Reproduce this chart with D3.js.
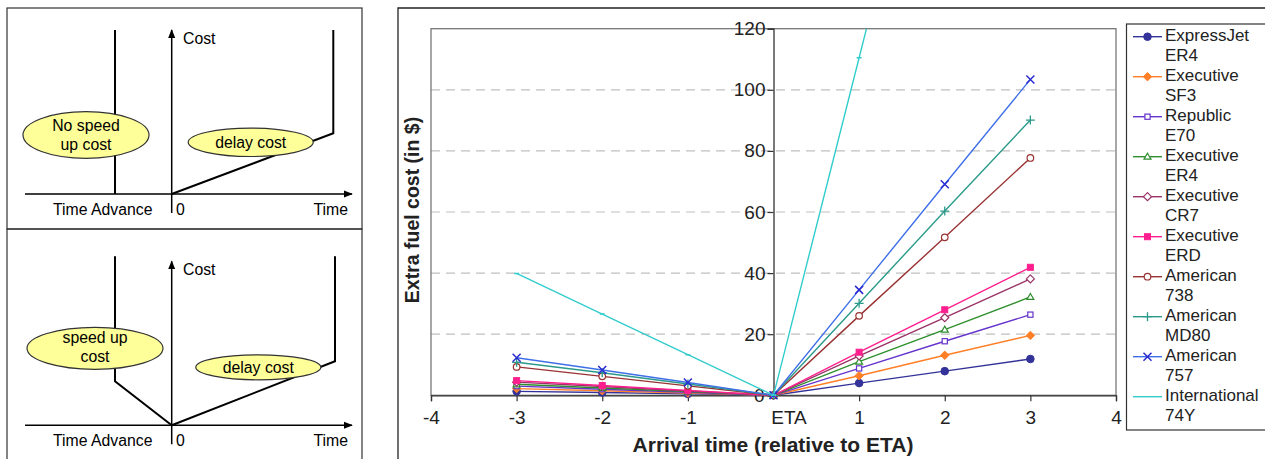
<!DOCTYPE html>
<html><head><meta charset="utf-8">
<script src="https://cdn.jsdelivr.net/npm/d3@7"></script>
<style>body{margin:0;background:#fff}svg{display:block;font-family:"Liberation Sans",Arial,sans-serif}</style>
</head><body><svg id="c" width="1265" height="459"></svg>
<script>
// ---- data ----
const xTicks = [-4,-3,-2,-1,0,1,2,3,4];
const xTickLabels = ["-4","-3","-2","-1","ETA","1","2","3","4"];
const yTicks = [0,20,40,60,80,100,120];
const times = [-3,-2,-1,0,1,2,3];
const seriesNames = ["ExpressJet ER4","Executive SF3","Republic E70","Executive ER4","Executive CR7","Executive ERD","American 738","American MD80","American 757","International 74Y"];
const expressJetER4  = [1.3, 0.9, 0.45, 0, 4.0, 7.9, 11.9];
const executiveSF3   = [2.2, 1.5, 0.7, 0, 6.4, 13.1, 19.6];
const republicE70    = [3.0, 2.0, 1.0, 0, 8.8, 17.7, 26.4];
const executiveER4   = [3.6, 2.4, 1.2, 0, 11.0, 21.5, 32.2];
const executiveCR7   = [4.3, 2.9, 1.4, 0, 12.9, 25.4, 38.1];
const executiveERD   = [4.8, 3.2, 1.6, 0, 14.1, 28.0, 41.9];
const american738    = [9.3, 6.2, 3.1, 0, 26.0, 51.7, 77.7];
const americanMD80   = [10.8, 7.4, 3.7, 0, 30.1, 60.3, 90.1];
const american757    = [12.3, 8.3, 4.2, 0, 34.5, 69.1, 103.4];
const international74Y = [39.9, 26.6, 13.3, 0, 110.5, 221, 331.5];
const seriesValues = [expressJetER4, executiveSF3, republicE70, executiveER4, executiveCR7, executiveERD, american738, americanMD80, american757, international74Y];
const seriesColors = ["#333399","#ff7f27","#6633cc","#2f8f2f","#993366","#ff1f8f","#993333","#2a9a8a","#3f6fe8","#33cccc"];
const markerColors = ["#333399","#ff7f27","#6633cc","#2f8f2f","#993366","#ff1f8f","#993333","#2a9a8a","#2a2ad0","#33cccc"];
const markerTypes = ["circleF","diamondF","squareO","triangleO","diamondO","squareF","circleO","plus","cross","dash"];

const svg = d3.select("#c");
svg.append("rect").attr("width",1265).attr("height",459).attr("fill","#fff");

// ---- left schematic panels ----
const L = svg.append("g");
L.append("rect").attr("x",7).attr("y",8).attr("width",355).attr("height",221).attr("fill","none").attr("stroke","#333").attr("stroke-width",1.2);
L.append("rect").attr("x",7).attr("y",229).attr("width",355).attr("height",240).attr("fill","none").attr("stroke","#333").attr("stroke-width",1.2);
const defs = svg.append("defs");
defs.append("marker").attr("id","arr").attr("viewBox","0 0 10 10").attr("refX",9).attr("refY",5)
  .attr("markerWidth",6).attr("markerHeight",6).attr("orient","auto-start-reverse")
  .append("path").attr("d","M0,1 L10,5 L0,9 Z").attr("fill","#000");
const FS = 15.8;
function panel(oy, speedUp){
  const g = L.append("g").attr("transform",`translate(0,${oy})`);
  const ox=171.7, axY=186;
  const line = d3.line();
  g.append("path").attr("d",line([[25,axY],[352,axY]])).attr("stroke","#000").attr("stroke-width",1.5).attr("marker-end","url(#arr)");
  g.append("path").attr("d",line([[ox,axY+19],[ox,22]])).attr("stroke","#000").attr("stroke-width",1.5).attr("marker-end","url(#arr)");
  g.append("text").attr("x",183).attr("y",36).attr("font-size",FS).text("Cost");
  if(speedUp){
    g.append("path").attr("d",line([[115,17],[115,142],[ox,axY]])).attr("fill","none").attr("stroke","#000").attr("stroke-width",2);
    g.append("ellipse").attr("cx",95).attr("cy",109).attr("rx",68).attr("ry",21).attr("fill","#ffff99").attr("stroke","#333").attr("stroke-width",1.2);
    g.append("text").attr("x",95).attr("y",104).attr("text-anchor","middle").attr("font-size",FS).text("speed up");
    g.append("text").attr("x",95).attr("y",123).attr("text-anchor","middle").attr("font-size",FS).text("cost");
    g.append("path").attr("d",line([[ox,axY],[335,122],[335,17]])).attr("fill","none").attr("stroke","#000").attr("stroke-width",2);
    g.append("ellipse").attr("cx",258.3).attr("cy",128).attr("rx",62.5).attr("ry",12.5).attr("fill","#ffff99").attr("stroke","#333").attr("stroke-width",1.2);
    g.append("text").attr("x",258.3).attr("y",133.5).attr("text-anchor","middle").attr("font-size",FS).text("delay cost");
  } else {
    g.append("path").attr("d",line([[115,22],[115,axY]])).attr("fill","none").attr("stroke","#000").attr("stroke-width",2);
    g.append("ellipse").attr("cx",86).attr("cy",127).attr("rx",63).attr("ry",23.3).attr("fill","#ffff99").attr("stroke","#333").attr("stroke-width",1.2);
    g.append("text").attr("x",86).attr("y",123).attr("text-anchor","middle").attr("font-size",FS).text("No speed");
    g.append("text").attr("x",86).attr("y",142).attr("text-anchor","middle").attr("font-size",FS).text("up cost");
    g.append("path").attr("d",line([[ox,axY],[333.3,125.3],[333.3,22]])).attr("fill","none").attr("stroke","#000").attr("stroke-width",2);
    g.append("ellipse").attr("cx",250.7).attr("cy",134.3).attr("rx",62.5).attr("ry",14.2).attr("fill","#ffff99").attr("stroke","#333").attr("stroke-width",1.2);
    g.append("text").attr("x",250.7).attr("y",140).attr("text-anchor","middle").attr("font-size",FS).text("delay cost");
  }
  g.append("text").attr("x",53).attr("y",207).attr("font-size",FS).text("Time Advance");
  g.append("text").attr("x",176).attr("y",207).attr("font-size",FS).text("0");
  g.append("text").attr("x",348).attr("y",207).attr("text-anchor","end").attr("font-size",FS).text("Time");
}
panel(8,false);
panel(239.3,true);

// ---- main chart frame ----
svg.append("path").attr("d","M398,470 L398,8 L1270,8").attr("fill","none").attr("stroke","#222").attr("stroke-width",1.3);

const x = d3.scaleLinear().domain([-4,4]).range([431,1116]);
const y = d3.scaleLinear().domain([0,120]).range([395.3,28.7]);

// gridlines
svg.append("g").selectAll("line").data(yTicks.filter(v=>v>0&&v<120)).join("line")
  .attr("x1",431).attr("x2",1116).attr("y1",d=>y(d)).attr("y2",d=>y(d))
  .attr("stroke","#c0c0c0").attr("stroke-width",1.2).attr("stroke-dasharray","9,6");
// plot border
svg.append("rect").attr("x",431).attr("y",y(120)).attr("width",1116-431).attr("height",y(0)-y(120))
  .attr("fill","none").attr("stroke","#777").attr("stroke-width",1.3);

// x axis
const xAxis = d3.axisBottom(x).tickValues(xTicks).tickSize(6).tickFormat((d,i)=>xTickLabels[i]);
const gx = svg.append("g").attr("transform",`translate(0,${y(0)})`).call(xAxis);
gx.select(".domain").attr("stroke","#333").attr("stroke-width",1.3);
gx.selectAll(".tick line").attr("stroke","#333").attr("stroke-width",1.2);
gx.selectAll(".tick text").attr("font-size",19).attr("font-family","Liberation Sans, Arial, sans-serif").attr("fill","#222").attr("dy","1.05em")
  .attr("dx",d=>d===0?15:0);
gx.selectAll(".tick").filter(d=>d===0).select("line").remove();

// y axis at x = 0
const yAxis = d3.axisLeft(y).tickValues(yTicks).tickSize(6);
const gy = svg.append("g").attr("transform",`translate(${x(0)},0)`).call(yAxis);
gy.select(".domain").attr("stroke","#333").attr("stroke-width",1.3);
gy.selectAll(".tick line").attr("stroke","#333").attr("stroke-width",1.2);
gy.selectAll(".tick text").attr("font-size",19).attr("font-family","Liberation Sans, Arial, sans-serif").attr("fill","#222").attr("x",-8);
gy.selectAll(".tick text").filter(d=>d===0).attr("x",-9);

// axis titles
svg.append("text").attr("x",773).attr("y",452).attr("text-anchor","middle").attr("font-size",21).attr("font-weight","bold").attr("fill","#222").text("Arrival time (relative to ETA)");
svg.append("text").attr("transform","translate(418.5,210) rotate(-90)").attr("text-anchor","middle").attr("font-size",19.5).attr("font-weight","bold").attr("fill","#222").text("Extra fuel cost (in $)");

// clip
defs.append("clipPath").attr("id","plotclip").append("rect").attr("x",431).attr("y",y(120)).attr("width",685).attr("height",y(0)-y(120)+8);

function drawMarker(g, type, cx, cy, col){
  switch(type){
    case "circleF": g.append("circle").attr("cx",cx).attr("cy",cy).attr("r",3.8).attr("fill",col).attr("stroke",col); break;
    case "circleO": g.append("circle").attr("cx",cx).attr("cy",cy).attr("r",3.3).attr("fill","#fff").attr("stroke",col).attr("stroke-width",1.2); break;
    case "diamondF": g.append("path").attr("d",`M${cx},${cy-4.2}L${cx+4.2},${cy}L${cx},${cy+4.2}L${cx-4.2},${cy}Z`).attr("fill",col).attr("stroke",col); break;
    case "diamondO": g.append("path").attr("d",`M${cx},${cy-4}L${cx+4},${cy}L${cx},${cy+4}L${cx-4},${cy}Z`).attr("fill","#fff").attr("stroke",col).attr("stroke-width",1.2); break;
    case "squareO": g.append("rect").attr("x",cx-2.6).attr("y",cy-2.6).attr("width",5.2).attr("height",5.2).attr("fill","#fff").attr("stroke",col).attr("stroke-width",1.2); break;
    case "squareF": g.append("rect").attr("x",cx-3).attr("y",cy-3).attr("width",6).attr("height",6).attr("fill",col).attr("stroke",col); break;
    case "triangleO": g.append("path").attr("d",`M${cx},${cy-3.5}L${cx+3.5},${cy+2.5}L${cx-3.5},${cy+2.5}Z`).attr("fill","#fff").attr("stroke",col).attr("stroke-width",1.2); break;
    case "plus": g.append("path").attr("d",`M${cx-4.5},${cy}H${cx+4.5}M${cx},${cy-4.5}V${cy+4.5}`).attr("stroke",col).attr("stroke-width",1.3).attr("fill","none"); break;
    case "cross": g.append("path").attr("d",`M${cx-4},${cy-4}L${cx+4},${cy+4}M${cx+4},${cy-4}L${cx-4},${cy+4}`).attr("stroke",col).attr("stroke-width",1.5).attr("fill","none"); break;
    case "dash": g.append("path").attr("d",`M${cx-2.5},${cy}H${cx+2.5}`).attr("stroke",col).attr("stroke-width",1.5); break;
  }
}

const plotG = svg.append("g").attr("clip-path","url(#plotclip)");
const lineGen = d3.line().x((d,i)=>x(times[i])).y(d=>y(d));
seriesValues.forEach((vals,si)=>{
  const g = plotG.append("g");
  g.append("path").datum(vals).attr("d",lineGen).attr("fill","none").attr("stroke",seriesColors[si]).attr("stroke-width",1.4);
  vals.forEach((v,i)=>{ if(v<=120) drawMarker(g, markerTypes[si], x(times[i]), y(v), markerColors[si]); });
});

// legend
svg.append("rect").attr("x",1126.5).attr("y",24).attr("width",150).attr("height",406).attr("fill","#fff").attr("stroke","#333").attr("stroke-width",1.2);
seriesNames.forEach((name,i)=>{
  const cy = 36.7 + 40*i;
  const g = svg.append("g");
  g.append("line").attr("x1",1133).attr("x2",1162).attr("y1",cy).attr("y2",cy).attr("stroke",seriesColors[i]).attr("stroke-width",1.4);
  if(markerTypes[i]!=="dash") drawMarker(g, markerTypes[i], 1147.5, cy, markerColors[i]);
  const parts = name.split(" ");
  g.append("text").attr("x",1165).attr("y",cy+4.6).attr("font-size",17).attr("fill","#222").text(parts[0]);
  g.append("text").attr("x",1165).attr("y",cy+24.2).attr("font-size",17).attr("fill","#222").text(parts.slice(1).join(" "));
});
</script></body></html>
